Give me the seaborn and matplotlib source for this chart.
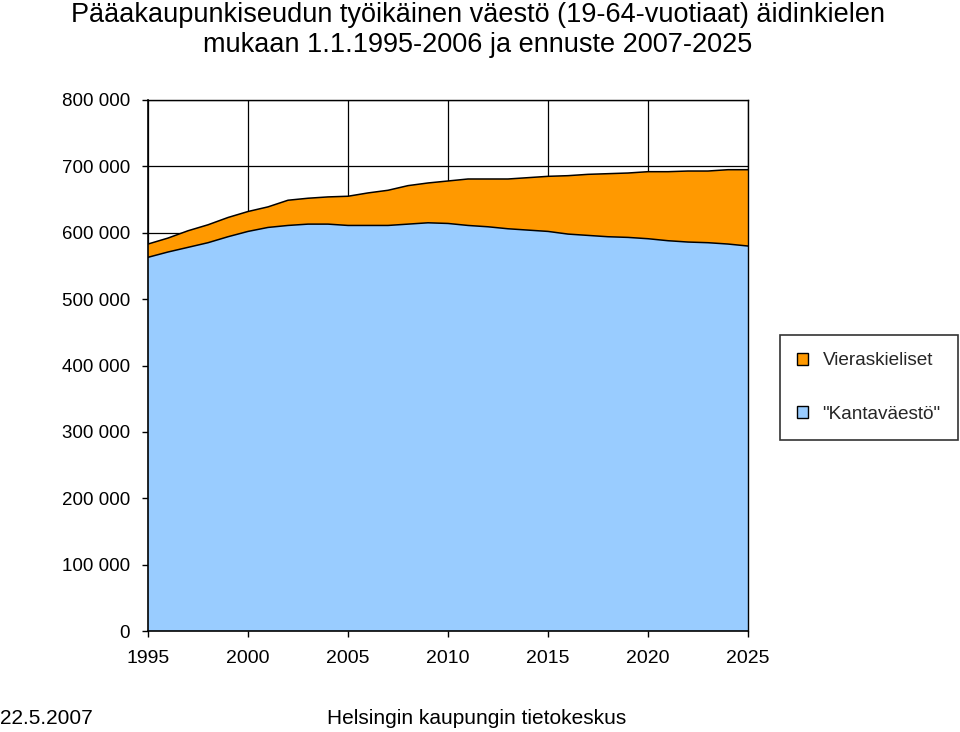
import numpy as np
import pandas as pd
import matplotlib
matplotlib.use("Agg")
import matplotlib.pyplot as plt
import seaborn as sns
from matplotlib.patches import Patch

years = list(range(1995, 2026))
kantavaesto = [563, 571, 578, 585, 594, 602, 608, 611, 613, 613, 611, 611, 611, 613, 615,
               614, 611, 609, 606, 604, 602, 598, 596, 594, 593, 591, 588, 586, 585, 583, 580]
vieraskieliset = [20, 21, 25, 27, 29, 30, 31, 38, 39, 41, 44, 49, 53, 58, 60,
                  64, 70, 72, 75, 79, 83, 88, 92, 95, 97, 101, 104, 107, 108, 112, 115]
kantavaesto = [v * 1000 for v in kantavaesto]
vieraskieliset = [v * 1000 for v in vieraskieliset]

title = "Pääakaupunkiseudun työikäinen väestö (19-64-vuotiaat) äidinkielen\nmukaan 1.1.1995-2006 ja ennuste 2007-2025"
labels = ["Vieraskieliset", "\"Kantaväestö\""]
colors = ["#FF9900", "#99CCFF"]
yticks = list(range(0, 800001, 100000))
xticks = list(range(1995, 2026, 5))

sns.set_theme(style="white")
plt.rcParams["font.family"] = ["Liberation Sans", "DejaVu Sans"]

df = pd.DataFrame({"year": years, "kanta": kantavaesto,
                   "total": np.array(kantavaesto) + np.array(vieraskieliset)})

fig = plt.figure(figsize=(9.6, 7.32), dpi=100)
ax = fig.add_axes([148 / 960, 1 - 631 / 732, 600 / 960, 531 / 732])

ax.stackplot(df["year"], df["kanta"], vieraskieliset, colors=[colors[1], colors[0]],
             edgecolor="none", zorder=2)
sns.lineplot(data=df, x="year", y="kanta", color="black", lw=1.1, ax=ax, zorder=3)
sns.lineplot(data=df, x="year", y="total", color="black", lw=1.1, ax=ax, zorder=3)

ax.set_xlim(1995, 2025)
ax.set_ylim(0, 800000)
ax.set_xticks(xticks)
ax.set_yticks(yticks)
ax.set_yticklabels(["0" if v == 0 else f"{v // 1000} 000" for v in yticks], fontsize=13.5)
ax.set_xticklabels([str(x) for x in xticks], fontsize=14)
ax.set_xlabel("")
ax.set_ylabel("")
ax.grid(True, color="black", lw=0.9, zorder=0)
ax.set_axisbelow(True)
for s in ax.spines.values():
    s.set_color("black")
    s.set_linewidth(1.0)
    s.set_zorder(4)
ax.spines["left"].set_linewidth(1.2)
ax.spines["bottom"].set_linewidth(1.2)
ax.tick_params(axis="both", which="both", direction="out", length=4.3, width=1.0,
               color="black", left=True, bottom=True, labelcolor="black")
ax.tick_params(axis="y", pad=8.6)
ax.tick_params(axis="x", pad=9.5)

handles = [Patch(facecolor=colors[0], edgecolor="black", lw=1.0),
           Patch(facecolor=colors[1], edgecolor="black", lw=1.0)]
leg = fig.legend(handles, labels, loc="center", bbox_to_anchor=(869 / 960, 1 - 387.5 / 732),
                 fontsize=13.7, frameon=True, fancybox=False, edgecolor="black",
                 handlelength=0.57, handleheight=0.57, handletextpad=0.75,
                 labelspacing=1.9, borderpad=0.9, borderaxespad=0)
leg.get_frame().set_linewidth(1.2)

fig.text(478 / 960, 1 - 30 / 732, title, ha="center", va="center", fontsize=19.5,
         linespacing=1.25, color="black")
fig.text(0.0, 1 - 719 / 732, "22.5.2007", ha="left", va="center", fontsize=15, color="black")
fig.text(476.5 / 960, 1 - 719 / 732, "Helsingin kaupungin tietokeskus", ha="center", va="center",
         fontsize=15, color="black")

fig.savefig("out.png", dpi=100)
